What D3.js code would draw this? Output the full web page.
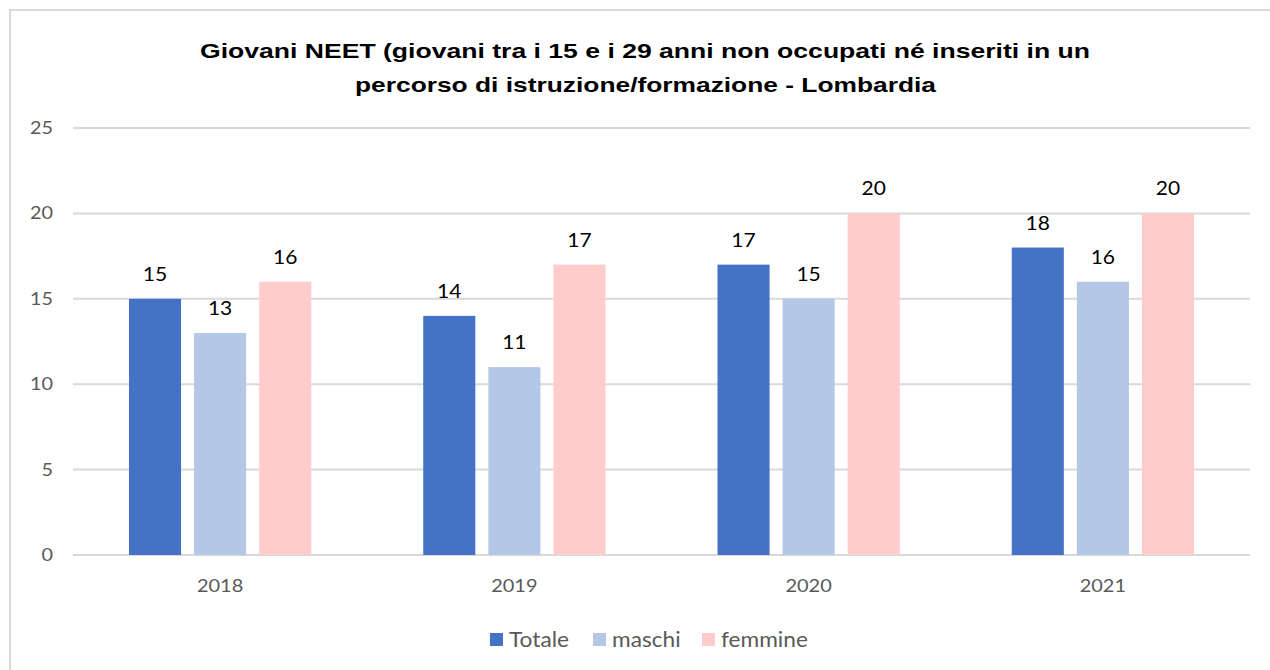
<!DOCTYPE html>
<html><head><meta charset="utf-8">
<script src="https://cdn.jsdelivr.net/npm/d3@7"></script>
<style>body{margin:0;background:#fff}</style>
</head><body>
<svg id="c" width="1270" height="670"></svg>
<script>
const years = ["2018","2019","2020","2021"];
const seriesNames = ["Totale","maschi","femmine"];
const totale = [15,14,17,18];
const maschi = [13,11,15,16];
const femmine = [16,17,20,20];
const yTicks = [0,5,10,15,20,25];
const colors = ["#4472C4","#B4C7E7","#FFCCCC"];
const titleLines = ["Giovani NEET (giovani tra i 15 e i 29 anni non occupati né inseriti in un","percorso di istruzione/formazione - Lombardia"];

const values = [totale, maschi, femmine];
const svg = d3.select("#c");
svg.append("rect").attr("x",10).attr("y",10).attr("width",1270).attr("height",680)
  .attr("fill","#fff").attr("stroke","#d9d9d9").attr("stroke-width",2);

const L=73,R=1250,T=128,B=555;
const x0 = d3.scaleBand().domain(years).range([L,R]).paddingInner(0).paddingOuter(0);
const x1 = d3.scaleBand().domain(seriesNames).range([56, x0.bandwidth()-56]).paddingInner(0.2).paddingOuter(0);
const y = d3.scaleLinear().domain([0,25]).range([B,T]);

const fontTick = "Lato, 'Open Sans', sans-serif";
function stext(x, yy, sx, txt){
  return svg.append("text").attr("transform",`translate(${x},${yy}) scale(${sx},1)`).text(txt);
}
const grid = svg.append("g");
yTicks.forEach(t=>{
  grid.append("line").attr("x1",L).attr("x2",R).attr("y1",y(t)).attr("y2",y(t))
    .attr("stroke","#d9d9d9").attr("stroke-width",2);
  stext(53, y(t)+6, 1.1, t).attr("text-anchor","end")
    .attr("font-family",fontTick).attr("font-size",18).attr("fill","#595959");
});

years.forEach((yr,i)=>{
  seriesNames.forEach((s,j)=>{
    const v = values[j][i];
    const bx = x0(yr)+x1(s);
    svg.append("rect").attr("x",bx).attr("y",y(v)).attr("width",x1.bandwidth())
      .attr("height",y(0)-y(v)).attr("fill",colors[j]);
    stext(bx+x1.bandwidth()/2, y(v)-18, 1.05, v)
      .attr("text-anchor","middle").attr("font-family",fontTick).attr("font-size",20)
      .attr("fill","#000");
  });
  stext(x0(yr)+x0.bandwidth()/2, 592, 1.11, yr)
    .attr("text-anchor","middle").attr("font-family",fontTick).attr("font-size",18)
    .attr("fill","#595959");
});

const titleSpans = [[200,1090],[355,936]];
titleLines.forEach((t,i)=>{
  svg.append("text").attr("x",titleSpans[i][0]).attr("y",58+i*34)
    .attr("textLength",titleSpans[i][1]-titleSpans[i][0]).attr("lengthAdjust","spacingAndGlyphs")
    .attr("font-family","'Liberation Sans', Arial, sans-serif").attr("font-weight","bold")
    .attr("font-size",21).attr("fill","#000").text(t);
});

const legX = [490,593,702];
seriesNames.forEach((s,j)=>{
  svg.append("rect").attr("x",legX[j]).attr("y",633).attr("width",13).attr("height",13).attr("fill",colors[j]);
  stext(legX[j]+19, 647, 1.08, s).attr("font-family",fontTick)
    .attr("font-size",21).attr("fill","#595959");
});
</script>
</body></html>
